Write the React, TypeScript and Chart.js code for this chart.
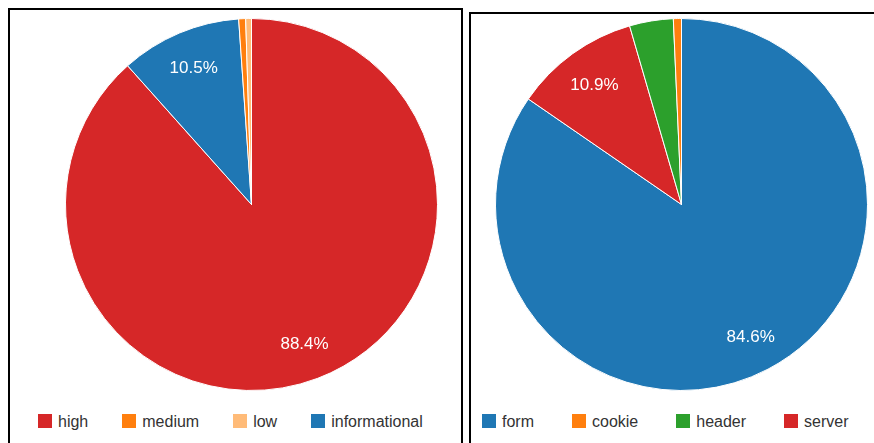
import React, { useEffect, useRef } from 'react';
import { Chart, registerables } from 'chart.js';

Chart.register(...registerables);

// ---- Data (legend order) ----
const severityLabels = ['high', 'medium', 'low', 'informational'];
const severityValues = [88.4, 0.6, 0.5, 10.5];
const severityColors = ['#d62728', '#ff7f0e', '#ffbb78', '#1f77b4'];
// clockwise drawing order from 12 o'clock
const severitySliceOrder = ['high', 'informational', 'medium', 'low'];

const locationLabels = ['form', 'cookie', 'header', 'server'];
const locationValues = [84.6, 0.7, 3.8, 10.9];
const locationColors = ['#1f77b4', '#ff7f0e', '#2ca02c', '#d62728'];
const locationSliceOrder = ['form', 'server', 'header', 'cookie'];

const LABEL_MIN_PCT = 5;
const FONT = '"Liberation Sans", Arial, Helvetica, sans-serif';

const pctPlugin = {
  id: 'pctLabels',
  afterDatasetsDraw(chart: any) {
    const ctx = chart.ctx;
    const meta = chart.getDatasetMeta(0);
    const data = chart.data.datasets[0].data as number[];
    const total = data.reduce((a, b) => a + b, 0);
    ctx.save();
    ctx.fillStyle = '#ffffff';
    ctx.font = `17px ${FONT}`;
    ctx.textAlign = 'center';
    ctx.textBaseline = 'middle';
    meta.data.forEach((arc: any, i: number) => {
      const pct = (data[i] / total) * 100;
      if (pct < LABEL_MIN_PCT) return;
      const p = arc.getProps(['x', 'y', 'startAngle', 'endAngle', 'outerRadius'], true);
      const mid = (p.startAngle + p.endAngle) / 2;
      const r = p.outerRadius * 0.8;
      ctx.fillText(pct.toFixed(1) + '%', p.x + Math.cos(mid) * r, p.y + Math.sin(mid) * r + 1);
    });
    ctx.restore();
  },
};

type PanelProps = {
  labels: string[];
  values: number[];
  colors: string[];
  order: string[];
  panelLeft: number;
  panelTop: number;
  panelWidth: number;
  pieLeft: number;
  pieTop: number;
  pieSize: number;
  legendLeft: number;
  legendTop: number;
  legendGap: number;
};

function PiePanel(props: PanelProps) {
  const ref = useRef<HTMLCanvasElement | null>(null);
  useEffect(() => {
    if (!ref.current) return;
    const idx = props.order.map((name) => props.labels.indexOf(name));
    const chart = new Chart(ref.current, {
      type: 'pie',
      data: {
        labels: idx.map((i) => props.labels[i]),
        datasets: [
          {
            data: idx.map((i) => props.values[i]),
            backgroundColor: idx.map((i) => props.colors[i]),
            borderColor: '#ffffff',
            borderWidth: 1,
          },
        ],
      },
      options: {
        responsive: false,
        animation: false,
        layout: { padding: 0 },
        plugins: {
          legend: { display: false },
          tooltip: { enabled: false },
        },
      },
      plugins: [pctPlugin],
    });
    return () => chart.destroy();
  }, []);

  return (
    <div
      style={{
        position: 'absolute',
        left: props.panelLeft,
        top: props.panelTop,
        width: props.panelWidth,
        height: 470,
        border: '2px solid #000',
        boxSizing: 'border-box',
        background: '#fff',
      }}
    >
      <canvas
        ref={ref}
        width={props.pieSize}
        height={props.pieSize}
        style={{
          position: 'absolute',
          left: props.pieLeft,
          top: props.pieTop,
          width: props.pieSize,
          height: props.pieSize,
        }}
      />
      <div
        style={{
          position: 'absolute',
          left: props.legendLeft,
          top: props.legendTop,
          display: 'flex',
          alignItems: 'center',
          gap: props.legendGap,
          height: 14,
          whiteSpace: 'nowrap',
          fontFamily: FONT,
          fontSize: 16,
          lineHeight: '14px',
          color: '#333',
        }}
      >
        {props.labels.map((l, i) => (
          <div key={l} style={{ display: 'flex', alignItems: 'center' }}>
            <span
              style={{
                display: 'inline-block',
                width: 14,
                height: 14,
                background: props.colors[i],
                marginRight: 6,
              }}
            />
            <span style={{ position: 'relative', top: 1 }}>{l}</span>
          </div>
        ))}
      </div>
    </div>
  );
}

export default function App() {
  return (
    <div
      style={{
        position: 'fixed',
        left: 0,
        top: 0,
        width: 874,
        height: 443,
        overflow: 'hidden',
        background: '#fff',
      }}
    >
      <PiePanel
        labels={severityLabels}
        values={severityValues}
        colors={severityColors}
        order={severitySliceOrder}
        panelLeft={8}
        panelTop={8}
        panelWidth={455}
        pieLeft={55}
        pieTop={8}
        pieSize={373}
        legendLeft={28}
        legendTop={404}
        legendGap={34}
      />
      <PiePanel
        labels={locationLabels}
        values={locationValues}
        colors={locationColors}
        order={locationSliceOrder}
        panelLeft={469}
        panelTop={12}
        panelWidth={500}
        pieLeft={24}
        pieTop={4}
        pieSize={373}
        legendLeft={11}
        legendTop={400}
        legendGap={38}
      />
    </div>
  );
}
